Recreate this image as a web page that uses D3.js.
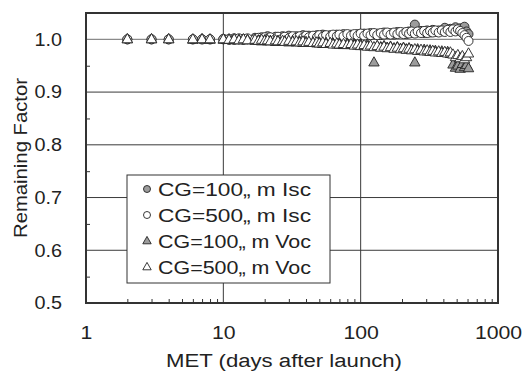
<!DOCTYPE html>
<html>
<head>
<meta charset="utf-8">
<script src="https://cdn.jsdelivr.net/npm/d3@7"></script>
<style>
  body { margin: 0; background: #fff; }
  text { font-family: "Liberation Sans", Arial, sans-serif; fill: #222; }
</style>
</head>
<body>
<svg id="chart" width="523" height="374"></svg>
<script>
// days after launch (shared by all four series)
const days = [2, 3, 4, 6, 7, 8, 10, 11, 12, 13, 14, 15, 17, 18, 19, 20, 21, 22, 24, 25, 27, 28,
  30, 32, 34, 36, 38, 40, 42, 45, 48, 50, 53, 56, 60, 63, 67, 70, 75, 80, 85, 90, 95,
  100, 106, 112, 118, 125, 132, 140, 148, 156, 165, 175, 185, 195, 205, 215, 225, 235, 248,
  260, 275, 290, 305, 320, 335, 350, 370, 390, 410, 430, 450, 470, 490, 510, 530, 550, 570, 590, 610];

const isc100 = [1.000, 1.000, 1.000, 1.000, 1.000, 1.000, 1.001, 0.999, 1.002, 1.000, 1.001, 1.000, 1.003, 1.001, 1.004, 1.002, 1.006, 1.003, 1.005, 1.002, 1.006, 1.004,
  1.007, 1.003, 1.006, 1.004, 1.008, 1.005, 1.007, 1.004, 1.008, 1.005, 1.009, 1.006, 1.008, 1.005, 1.009, 1.006, 1.010, 1.007, 1.009, 1.006, 1.010,
  1.008, 1.011, 1.007, 1.012, 1.009, 1.011, 1.008, 1.013, 1.010, 1.012, 1.009, 1.014, 1.011, 1.013, 1.010, 1.015, 1.012, 1.028,
  1.013, 1.016, 1.012, 1.017, 1.013, 1.018, 1.014, 1.017, 1.015, 1.022, 1.016, 1.020, 1.017, 1.023, 1.018, 1.021, 1.019, 1.024, 1.015, 1.010];

const isc500 = [1.000, 1.000, 1.000, 1.000, 1.000, 1.000, 1.000, 1.001, 0.999, 1.002, 0.999, 1.002, 1.000, 1.003, 1.000, 1.004, 1.001, 1.004, 1.001, 1.005, 1.002, 1.005,
  1.002, 1.006, 1.003, 1.006, 1.003, 1.007, 1.004, 1.007, 1.004, 1.008, 1.005, 1.008, 1.005, 1.009, 1.006, 1.009, 1.006, 1.010, 1.007, 1.010, 1.007,
  1.011, 1.007, 1.011, 1.008, 1.012, 1.008, 1.012, 1.009, 1.013, 1.009, 1.013, 1.010, 1.014, 1.010, 1.014, 1.011, 1.015, 1.011,
  1.015, 1.012, 1.016, 1.012, 1.016, 1.013, 1.017, 1.013, 1.017, 1.014, 1.018, 1.014, 1.019, 1.015, 1.019, 1.016, 1.012, 1.008, 1.003, 0.997];

const voc100 = [1.000, 1.000, 1.000, 0.999, 1.000, 0.999, 0.999, 1.000, 0.998, 0.999, 0.998, 0.999, 0.997, 0.998, 0.996, 0.998, 0.996, 0.997, 0.995, 0.997, 0.995, 0.996,
  0.994, 0.996, 0.994, 0.995, 0.993, 0.995, 0.993, 0.994, 0.992, 0.994, 0.991, 0.993, 0.991, 0.992, 0.990, 0.992, 0.989, 0.991, 0.989, 0.990, 0.988,
  0.990, 0.987, 0.989, 0.986, 0.956, 0.987, 0.985, 0.987, 0.984, 0.986, 0.983, 0.985, 0.982, 0.984, 0.981, 0.983, 0.980, 0.956,
  0.981, 0.978, 0.980, 0.977, 0.979, 0.976, 0.978, 0.975, 0.977, 0.974, 0.976, 0.972, 0.952, 0.946, 0.950, 0.944, 0.953, 0.947, 0.951, 0.945];

const voc500 = [1.000, 1.000, 1.000, 1.000, 1.000, 1.000, 1.000, 0.999, 1.000, 0.998, 1.000, 0.998, 0.999, 0.997, 0.999, 0.997, 0.998, 0.996, 0.998, 0.996, 0.997, 0.995,
  0.997, 0.995, 0.996, 0.994, 0.996, 0.993, 0.995, 0.993, 0.994, 0.992, 0.994, 0.991, 0.993, 0.990, 0.992, 0.990, 0.991, 0.989, 0.991, 0.988, 0.990,
  0.987, 0.989, 0.986, 0.988, 0.985, 0.987, 0.984, 0.986, 0.983, 0.985, 0.982, 0.984, 0.981, 0.983, 0.980, 0.982, 0.979, 0.981,
  0.978, 0.980, 0.977, 0.979, 0.976, 0.978, 0.975, 0.977, 0.974, 0.976, 0.973, 0.975, 0.971, 0.966, 0.970, 0.964, 0.968, 0.962, 0.966, 0.973];

const seriesNames = ["CG=100\u201E m Isc", "CG=500\u201E m Isc", "CG=100\u201E m Voc", "CG=500\u201E m Voc"];
const yTicks = [0.5, 0.6, 0.7, 0.8, 0.9, 1.0];
const yMinor = [0.55, 0.65, 0.75, 0.85, 0.95];
const xTicks = [1, 10, 100, 1000];
const xMinor = [2, 3, 4, 5, 6, 7, 8, 9, 20, 30, 40, 50, 60, 70, 80, 90, 200, 300, 400, 500, 600, 700, 800, 900];

const series = [
  { name: seriesNames[0], values: isc100, shape: "circle", fill: "#9c9c9c" },
  { name: seriesNames[1], values: isc500, shape: "circle", fill: "#fff" },
  { name: seriesNames[2], values: voc100, shape: "tri", fill: "#9c9c9c" },
  { name: seriesNames[3], values: voc500, shape: "tri", fill: "#fff" }
];

const margin = {top: 13, right: 25, bottom: 71, left: 86};
const width = 523 - margin.left - margin.right;
const height = 374 - margin.top - margin.bottom;

const svg = d3.select("#chart");
const g = svg.append("g").attr("transform", "translate(" + margin.left + "," + margin.top + ")");

const x = d3.scaleLog().domain([1, 1000]).range([0, width]);
const y = d3.scaleLinear().domain([0.5, 1.05]).range([height, 0]);

// the scanned lettering is wider than Arial, stretch text to match
function stretch(sel, k) {
  sel.each(function () {
    const w = this.getComputedTextLength();
    d3.select(this).attr("textLength", w * k).attr("lengthAdjust", "spacingAndGlyphs");
  });
}

// grid
g.selectAll(".hgrid").data(yTicks.slice(1)).enter().append("line")
  .attr("x1", 0).attr("x2", width)
  .attr("y1", d => y(d)).attr("y2", d => y(d))
  .attr("stroke", d => d === 1.0 ? "#8a8a8a" : "#3a3a3a")
  .attr("stroke-width", d => d === 1.0 ? 1.4 : 1);
g.selectAll(".vgrid").data([10, 100]).enter().append("line")
  .attr("y1", 0).attr("y2", height)
  .attr("x1", d => x(d)).attr("x2", d => x(d))
  .attr("stroke", "#3a3a3a").attr("stroke-width", 1);

// minor ticks (inside)
const xMinorAxis = d3.axisBottom(x).tickValues(xMinor).tickSize(-4).tickFormat("");
g.append("g").attr("transform", "translate(0," + height + ")").call(xMinorAxis)
  .call(s => s.select(".domain").remove())
  .selectAll("line").attr("stroke", "#333");
const yMinorAxis = d3.axisLeft(y).tickValues(yMinor).tickSize(-4).tickFormat("");
g.append("g").call(yMinorAxis)
  .call(s => s.select(".domain").remove())
  .selectAll("line").attr("stroke", "#333");

// tick labels
const yAxis = d3.axisLeft(y).tickValues(yTicks).tickSize(0).tickPadding(24).tickFormat(d3.format(".1f"));
g.append("g").call(yAxis)
  .call(s => s.select(".domain").remove())
  .selectAll("text").style("font-size", "18px").attr("fill", "#222")
  .call(stretch, 1.1);
const xAxis = d3.axisBottom(x).tickValues(xTicks).tickSize(0).tickPadding(23).tickFormat(d3.format("d"));
g.append("g").attr("transform", "translate(0," + height + ")").call(xAxis)
  .call(s => s.select(".domain").remove())
  .selectAll("text").style("font-size", "18px").attr("fill", "#222")
  .call(stretch, 1.18);

// markers
const triPath = "M0,-5.8L5.2,3.4L-5.2,3.4Z";
series.forEach(s => {
  const layer = g.append("g");
  const pts = days.map((d, i) => ({d: d, v: s.values[i]}));
  if (s.shape === "circle") {
    layer.selectAll("circle").data(pts).enter().append("circle")
      .attr("cx", p => x(p.d)).attr("cy", p => y(p.v)).attr("r", 4.5)
      .attr("fill", s.fill).attr("stroke", "#222").attr("stroke-width", 0.9);
  } else {
    layer.selectAll("path").data(pts).enter().append("path")
      .attr("d", triPath)
      .attr("transform", p => "translate(" + x(p.d) + "," + y(p.v) + ")")
      .attr("fill", s.fill).attr("stroke", "#222").attr("stroke-width", 0.9);
  }
});

// frame
g.append("rect").attr("x", 0).attr("y", 0).attr("width", width).attr("height", height)
  .attr("fill", "none").attr("stroke", "#333").attr("stroke-width", 2);

// legend
const lg = svg.append("g").attr("transform", "translate(127,175)");
lg.append("rect").attr("width", 203).attr("height", 108)
  .attr("fill", "#fff").attr("stroke", "#333").attr("stroke-width", 1);
series.forEach((s, i) => {
  const cy = 14 + i * 26;
  if (s.shape === "circle") {
    lg.append("circle").attr("cx", 20).attr("cy", cy).attr("r", 3.5)
      .attr("fill", s.fill).attr("stroke", "#222").attr("stroke-width", 0.9);
  } else {
    lg.append("path").attr("d", "M0,-4.6L4.2,2.8L-4.2,2.8Z")
      .attr("transform", "translate(20," + cy + ")")
      .attr("fill", s.fill).attr("stroke", "#222").attr("stroke-width", 0.9);
  }
  lg.append("text").attr("x", 31).attr("y", cy + 6.5)
    .style("font-size", "18px").text(s.name)
    .attr("textLength", 153).attr("lengthAdjust", "spacingAndGlyphs");
});

// axis titles
svg.append("text").attr("x", 284).attr("y", 367)
  .attr("text-anchor", "middle").style("font-size", "18px").text("MET (days after launch)")
  .attr("textLength", 236).attr("lengthAdjust", "spacingAndGlyphs");
svg.append("text").attr("transform", "translate(27," + (margin.top + height / 2) + ") rotate(-90)")
  .attr("text-anchor", "middle").style("font-size", "19px").text("Remaining Factor")
  .attr("textLength", 160).attr("lengthAdjust", "spacingAndGlyphs");
</script>
</body>
</html>
